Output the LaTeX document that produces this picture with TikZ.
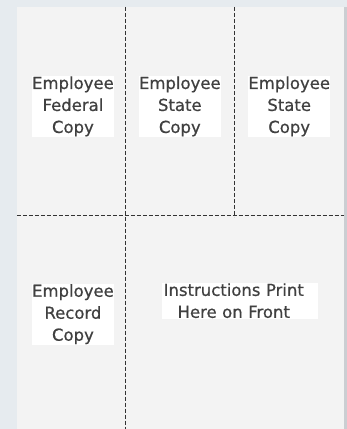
\documentclass[tikz,border=0pt]{standalone}
\usepackage{fontspec}
\setmainfont{DejaVu Sans}[FakeBold=0.6]
\usetikzlibrary{positioning}

\definecolor{backblue}{HTML}{E6EBEF}
\definecolor{paper}{HTML}{F3F3F3}
\definecolor{paperedge}{HTML}{CBCED2}
\definecolor{inkgray}{HTML}{404040}
\definecolor{cutgray}{HTML}{333333}

\begin{document}
\begin{tikzpicture}[
		x=1pt, y=-1pt,
		cut/.style={draw=cutgray, line width=0.9pt, dash pattern=on 4pt off 2pt},
		copybox/.style={fill=white, text=inkgray, align=center, inner sep=0pt,
			minimum width=82pt, minimum height=61pt,
			font=\fontsize{16.5}{22}\selectfont},
	]
		% sheet
		\fill[backblue] (0,0) rectangle (347,429);
		\fill[paper] (17,7) rectangle (344,429);
		\fill[paperedge] (344,7) rectangle (347,429);
		
		% cut lines
		\coordinate (topA) at (126,7);
		\coordinate (botA) at (126,429);
		\coordinate (topB) at (235,7);
		\coordinate (midB) at (235,217);
		\coordinate (left) at (17,216);
		\coordinate (right) at (344,216);
		\draw[cut] (topA) -- (botA);
		\draw[cut] (topB) -- (midB);
		\draw[cut] (left) -- (right);
		
		% copies
		\node at (73,106.5) (federal) [copybox] {Employee\\Federal\\Copy};
		\node at (180,106.5) (state1) [copybox, minimum width=80pt] {Employee\\State\\Copy};
		\node at (289.5,106.5) (state2) [copybox, minimum width=81pt] {Employee\\State\\Copy};
		\node at (73,314.5) (record) [copybox] {Employee\\Record\\Copy};
		\node at (240,301) (instr) [copybox, align=left, text width=156pt, minimum height=36pt]
			{\makebox[144pt][c]{Instructions Print}\\\makebox[144pt][c]{Here on Front}};
	\end{tikzpicture}
\end{document}
